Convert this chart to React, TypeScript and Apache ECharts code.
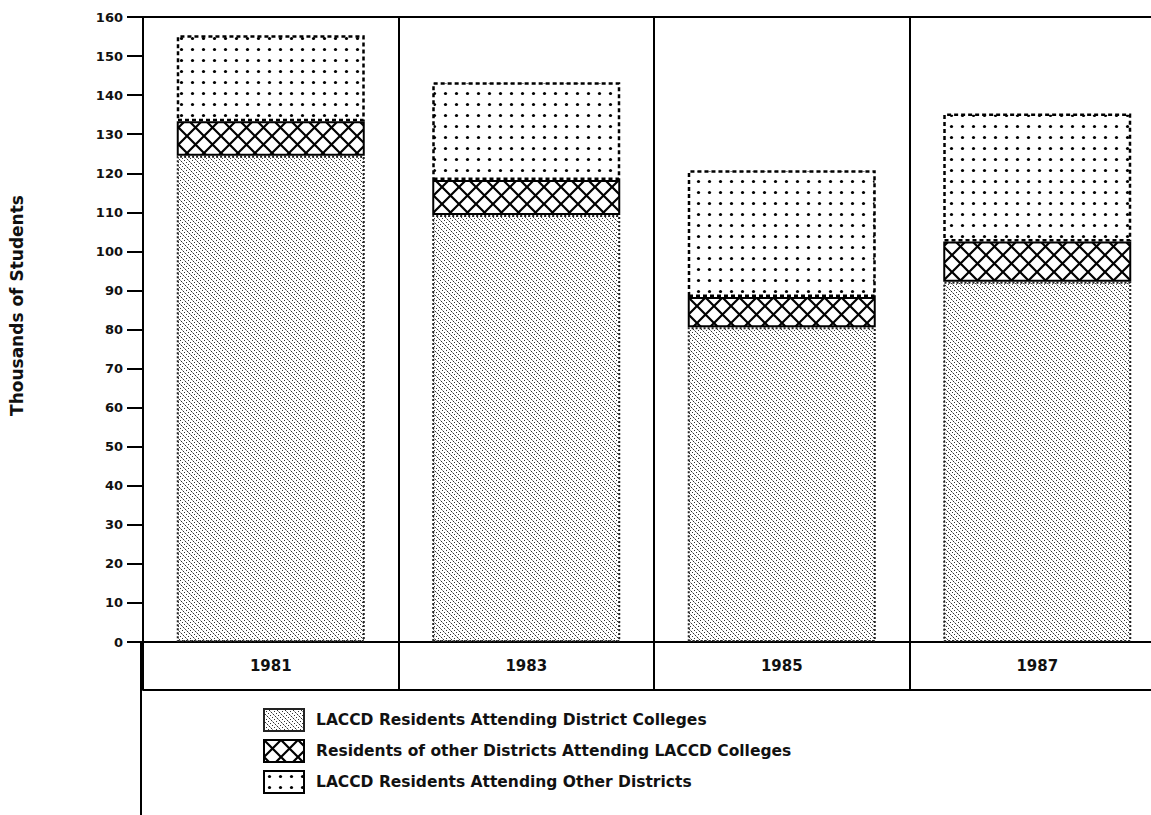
import React, { useEffect, useRef } from "react";
import * as echarts from "echarts";

const years = ["1981", "1983", "1985", "1987"];
const seriesNames = [
  "LACCD Residents Attending District Colleges",
  "Residents of other Districts Attending LACCD Colleges",
  "LACCD Residents Attending Other Districts",
];
const residentsInDistrict = [124.5, 109.3, 80.6, 92.2];
const otherDistrictResidents = [8.8, 9.0, 7.7, 10.3];
const residentsElsewhere = [22.0, 25.0, 32.5, 32.8];
const yTicks = { min: 0, max: 160, interval: 10 };
const yTitle = "Thousands of Students";

const FONT = "'DejaVu Sans', 'Liberation Sans', Arial, sans-serif";

function makeCanvas(w: number, h: number, draw: (c: CanvasRenderingContext2D) => void) {
  const cv = document.createElement("canvas");
  cv.width = w;
  cv.height = h;
  const ctx = cv.getContext("2d")!;
  ctx.fillStyle = "#ffffff";
  ctx.fillRect(0, 0, w, h);
  draw(ctx);
  return cv;
}

export default function App() {
  const ref = useRef<HTMLDivElement>(null);
  useEffect(() => {
    if (!ref.current) return;
    const chart = echarts.init(ref.current, undefined, { renderer: "svg" });

    const stipple = makeCanvas(8, 8, (c) => {
      c.fillStyle = "#333";
      const pts = [
        [0, 0], [2, 2], [4, 4], [6, 6], [5, 1], [1, 5], [3, 7], [7, 3],
      ];
      pts.forEach(([x, y]) => c.fillRect(x, y, 1, 1));
      c.fillStyle = "#999";
      [[4, 0], [0, 4], [6, 2], [2, 6]].forEach(([x, y]) => c.fillRect(x, y, 1, 1));
    });
    const cross = makeCanvas(17, 17, (c) => {
      c.strokeStyle = "#000";
      c.lineWidth = 2.2;
      c.beginPath();
      c.moveTo(0, 0);
      c.lineTo(17, 17);
      c.moveTo(17, 0);
      c.lineTo(0, 17);
      c.stroke();
    });
    const dots = makeCanvas(11, 11, (c) => {
      c.fillStyle = "#000";
      c.beginPath();
      c.arc(5.5, 5.5, 1.6, 0, Math.PI * 2);
      c.fill();
    });

    const option: any = {
      animation: false,
      backgroundColor: "#ffffff",
      textStyle: { fontFamily: FONT },
      grid: { left: 141, top: 17, bottom: 173, width: 1024, containLabel: false },
      legend: {
        orient: "vertical",
        left: 258,
        top: 703,
        itemWidth: 40,
        itemHeight: 22,
        itemGap: 7,
        icon: "rect",
        data: seriesNames,
        textStyle: {
          fontFamily: FONT,
          fontWeight: "bold",
          fontSize: 15.5,
          color: "#111",
          padding: [0, 0, 0, 7],
        },
      },
      xAxis: [
        {
          type: "category",
          data: years,
          position: "bottom",
          axisLine: { show: true, lineStyle: { color: "#000", width: 2 } },
          axisTick: { show: true, length: 48, interval: 0, lineStyle: { color: "#000", width: 2 } },
          axisLabel: {
            margin: 16,
            fontFamily: FONT,
            fontWeight: "bold",
            fontSize: 15,
            color: "#111",
          },
          splitLine: { show: true, interval: 0, lineStyle: { color: "#000", width: 2 } },
        },
        {
          type: "category",
          data: years,
          position: "top",
          axisLine: { show: true, lineStyle: { color: "#000", width: 2 } },
          axisTick: { show: false },
          axisLabel: { show: false },
        },
        {
          type: "category",
          data: years,
          position: "bottom",
          offset: 48,
          axisLine: { show: true, lineStyle: { color: "#000", width: 2 } },
          axisTick: { show: false },
          axisLabel: { show: false },
        },
      ],
      yAxis: {
        type: "value",
        min: yTicks.min,
        max: yTicks.max,
        interval: yTicks.interval,
        name: yTitle,
        nameLocation: "middle",
        nameGap: 118,
        nameRotate: 90,
        nameTextStyle: {
          fontFamily: FONT,
          fontWeight: "bold",
          fontSize: 17,
          color: "#111",
          padding: [0, 0, 0, 48],
        },
        axisLine: { show: true, lineStyle: { color: "#000", width: 2 } },
        axisTick: { show: true, length: 16, lineStyle: { color: "#000", width: 2 } },
        axisLabel: {
          margin: 20,
          fontFamily: FONT,
          fontWeight: "bold",
          fontSize: 13,
          color: "#111",
        },
        splitLine: { show: false },
      },
      graphic: [
        {
          type: "line",
          shape: { x1: 141, y1: 642, x2: 141, y2: 815 },
          style: { stroke: "#000", lineWidth: 2 },
        },
      ],
      series: [
        {
          name: seriesNames[0],
          type: "bar",
          stack: "total",
          barWidth: 188,
          data: residentsInDistrict,
          itemStyle: {
            color: { image: stipple, repeat: "repeat" },
            borderColor: "#222",
            borderWidth: 2,
            borderType: "dotted",
          },
        },
        {
          name: seriesNames[1],
          type: "bar",
          stack: "total",
          barWidth: 188,
          data: otherDistrictResidents,
          itemStyle: {
            color: { image: cross, repeat: "repeat" },
            borderColor: "#000",
            borderWidth: 2,
          },
        },
        {
          name: seriesNames[2],
          type: "bar",
          stack: "total",
          barWidth: 188,
          data: residentsElsewhere,
          itemStyle: {
            color: { image: dots, repeat: "repeat" },
            borderColor: "#000",
            borderWidth: 2.5,
            borderType: [4, 3],
          },
        },
      ],
    };
    chart.setOption(option);
    return () => chart.dispose();
  }, []);
  return (
    <div style={{ position: "fixed", left: 0, top: 0, width: 1151, height: 815, overflow: "hidden", background: "#fff" }}>
      <div ref={ref} style={{ width: 1175, height: 815 }} />
    </div>
  );
}
